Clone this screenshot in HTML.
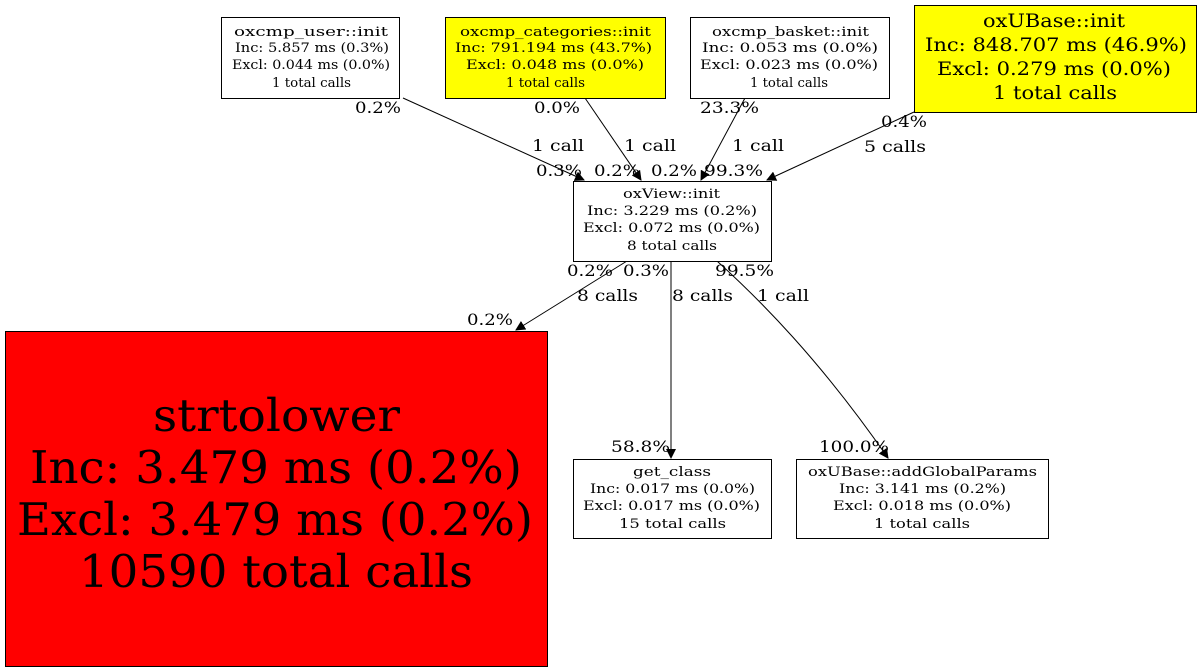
<!DOCTYPE html>
<html><head><meta charset="utf-8"><style>
html,body{margin:0;padding:0;background:#fff;width:1200px;height:672px;overflow:hidden}
svg{display:block;font-family:"DejaVu Serif","Liberation Serif",serif}
</style></head><body>
<svg width="1200" height="672" viewBox="0 0 1200 672" xmlns="http://www.w3.org/2000/svg">
<defs><marker id="a" markerWidth="10" markerHeight="10" refX="9" refY="5" orient="auto" markerUnits="userSpaceOnUse"><path d="M0,0 L10,5 L0,10 z" fill="#000"/></marker></defs>
<g stroke="#000" stroke-width="1" fill="none">
<path d="M403,98 L584,180" marker-end="url(#a)"/>
<path d="M585,98 L641,180" marker-end="url(#a)"/>
<path d="M745,98 L701,180" marker-end="url(#a)"/>
<path d="M914,112 L767,180" marker-end="url(#a)"/>
<path d="M627,261 L516,330" marker-end="url(#a)"/>
<path d="M671,261 L671,458" marker-end="url(#a)"/>
<path d="M717,261 C760,300 820,360 888,458" marker-end="url(#a)"/>
</g>
<g stroke="#000" stroke-width="1">
<rect x="221.5" y="17.5" width="178" height="81" fill="#fff"/>
<rect x="445.5" y="17.5" width="220" height="81" fill="#ff0"/>
<rect x="690.5" y="17.5" width="199" height="81" fill="#fff"/>
<rect x="914.5" y="5.5" width="282" height="107" fill="#ff0"/>
<rect x="573.5" y="181.5" width="198" height="80" fill="#fff"/>
<rect x="5.5" y="331.5" width="542" height="335" fill="#f00"/>
<rect x="573.5" y="459.5" width="198" height="79" fill="#fff"/>
<rect x="796.5" y="459.5" width="252" height="79" fill="#fff"/>
</g>
<g font-size="13" lengthAdjust="spacingAndGlyphs">
<text x="234" y="36" textLength="154" lengthAdjust="spacingAndGlyphs">oxcmp_user::init</text><text x="235" y="52" textLength="154" lengthAdjust="spacingAndGlyphs">Inc: 5.857 ms (0.3%)</text><text x="232" y="69" textLength="158" lengthAdjust="spacingAndGlyphs">Excl: 0.044 ms (0.0%)</text><text x="272" y="87" textLength="79" lengthAdjust="spacingAndGlyphs">1 total calls</text>
<text x="460" y="36" textLength="191" lengthAdjust="spacingAndGlyphs">oxcmp_categories::init</text><text x="455" y="52" textLength="197" lengthAdjust="spacingAndGlyphs">Inc: 791.194 ms (43.7%)</text><text x="466" y="69" textLength="178" lengthAdjust="spacingAndGlyphs">Excl: 0.048 ms (0.0%)</text><text x="506" y="87" textLength="79" lengthAdjust="spacingAndGlyphs">1 total calls</text>
<text x="712" y="36" textLength="157" lengthAdjust="spacingAndGlyphs">oxcmp_basket::init</text><text x="702" y="52" textLength="176" lengthAdjust="spacingAndGlyphs">Inc: 0.053 ms (0.0%)</text><text x="700" y="69" textLength="178" lengthAdjust="spacingAndGlyphs">Excl: 0.023 ms (0.0%)</text><text x="750" y="87" textLength="78" lengthAdjust="spacingAndGlyphs">1 total calls</text>
<text x="623" y="198" textLength="97" lengthAdjust="spacingAndGlyphs">oxView::init</text><text x="587" y="215" textLength="170" lengthAdjust="spacingAndGlyphs">Inc: 3.229 ms (0.2%)</text><text x="583" y="232" textLength="177" lengthAdjust="spacingAndGlyphs">Excl: 0.072 ms (0.0%)</text><text x="627" y="250" textLength="90" lengthAdjust="spacingAndGlyphs">8 total calls</text>
<text x="633" y="476" textLength="78" lengthAdjust="spacingAndGlyphs">get_class</text><text x="590" y="493" textLength="165" lengthAdjust="spacingAndGlyphs">Inc: 0.017 ms (0.0%)</text><text x="583" y="510" textLength="177" lengthAdjust="spacingAndGlyphs">Excl: 0.017 ms (0.0%)</text><text x="619" y="528" textLength="107" lengthAdjust="spacingAndGlyphs">15 total calls</text>
<text x="808" y="476" textLength="229" lengthAdjust="spacingAndGlyphs">oxUBase::addGlobalParams</text><text x="839" y="493" textLength="167" lengthAdjust="spacingAndGlyphs">Inc: 3.141 ms (0.2%)</text><text x="833" y="510" textLength="178" lengthAdjust="spacingAndGlyphs">Excl: 0.018 ms (0.0%)</text><text x="874" y="528" textLength="96" lengthAdjust="spacingAndGlyphs">1 total calls</text>
</g>
<g font-size="19">
<text x="983" y="27" textLength="142" lengthAdjust="spacingAndGlyphs">oxUBase::init</text><text x="925" y="51" textLength="262" lengthAdjust="spacingAndGlyphs">Inc: 848.707 ms (46.9%)</text><text x="937" y="75" textLength="234" lengthAdjust="spacingAndGlyphs">Excl: 0.279 ms (0.0%)</text><text x="993" y="99" textLength="124" lengthAdjust="spacingAndGlyphs">1 total calls</text>
</g>
<g font-size="45">
<text x="153" y="431" textLength="247" lengthAdjust="spacingAndGlyphs">strtolower</text><text x="30" y="483" textLength="492" lengthAdjust="spacingAndGlyphs">Inc: 3.479 ms (0.2%)</text><text x="17" y="535" textLength="516" lengthAdjust="spacingAndGlyphs">Excl: 3.479 ms (0.2%)</text><text x="79" y="587" textLength="394" lengthAdjust="spacingAndGlyphs">10590 total calls</text>
</g>
<g font-size="16">
<text x="355" y="113" textLength="46" lengthAdjust="spacingAndGlyphs">0.2%</text><text x="532" y="151" textLength="52" lengthAdjust="spacingAndGlyphs">1 call</text><text x="536" y="176" textLength="46" lengthAdjust="spacingAndGlyphs">0.3%</text>
<text x="534" y="113" textLength="46" lengthAdjust="spacingAndGlyphs">0.0%</text><text x="624" y="151" textLength="52" lengthAdjust="spacingAndGlyphs">1 call</text><text x="594" y="176" textLength="46" lengthAdjust="spacingAndGlyphs">0.2%</text>
<text x="700" y="113" textLength="59" lengthAdjust="spacingAndGlyphs">23.3%</text><text x="732" y="151" textLength="52" lengthAdjust="spacingAndGlyphs">1 call</text><text x="651" y="176" textLength="46" lengthAdjust="spacingAndGlyphs">0.2%</text><text x="704" y="176" textLength="59" lengthAdjust="spacingAndGlyphs">99.3%</text>
<text x="881" y="127" textLength="46" lengthAdjust="spacingAndGlyphs">0.4%</text><text x="864" y="152" textLength="62" lengthAdjust="spacingAndGlyphs">5 calls</text>
<text x="567" y="276" textLength="46" lengthAdjust="spacingAndGlyphs">0.2%</text><text x="577" y="301" textLength="61" lengthAdjust="spacingAndGlyphs">8 calls</text><text x="467" y="325" textLength="46" lengthAdjust="spacingAndGlyphs">0.2%</text>
<text x="623" y="276" textLength="46" lengthAdjust="spacingAndGlyphs">0.3%</text><text x="672" y="301" textLength="61" lengthAdjust="spacingAndGlyphs">8 calls</text><text x="611" y="452" textLength="59" lengthAdjust="spacingAndGlyphs">58.8%</text>
<text x="715" y="276" textLength="59" lengthAdjust="spacingAndGlyphs">99.5%</text><text x="757" y="301" textLength="52" lengthAdjust="spacingAndGlyphs">1 call</text><text x="819" y="452" textLength="70" lengthAdjust="spacingAndGlyphs">100.0%</text>
</g>
</svg>
</body></html>
